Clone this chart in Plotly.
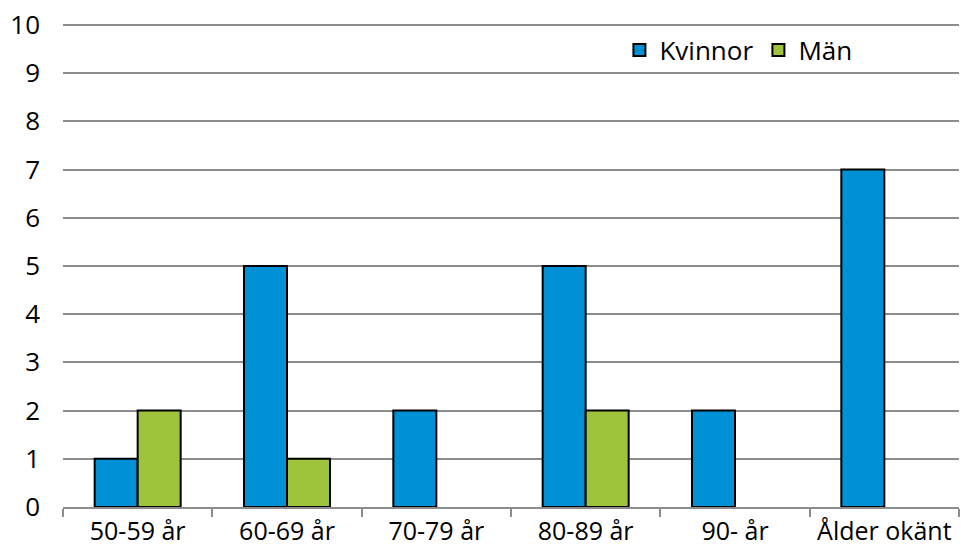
import plotly.graph_objects as go

categories = ["50-59 år", "60-69 år", "70-79 år", "80-89 år", "90- år", "Ålder okänt"]
kvinnor = [1, 5, 2, 5, 2, 7]
man = [2, 1, None, 2, None, None]
y_ticks = list(range(0, 11))

FONT = "Open Sans"
GRID = "#8c8c8c"

fig = go.Figure()
fig.add_trace(go.Bar(
    x=categories, y=kvinnor, name="Kvinnor",
    marker=dict(color="#0090D5", line=dict(color="black", width=2)),
))
fig.add_trace(go.Bar(
    x=categories, y=man, name="Män",
    marker=dict(color="#9DC43B", line=dict(color="black", width=2)),
))

fig.update_layout(
    width=961, height=551,
    margin=dict(l=63, r=2, t=23, b=44),
    paper_bgcolor="white", plot_bgcolor="white",
    barmode="group", bargap=0.424, bargroupgap=0,
    font=dict(family=FONT, size=26, color="black"),
    showlegend=True,
    legend=dict(
        orientation="h", x=0.621, y=0.944, xanchor="left", yanchor="middle",
        bgcolor="rgba(0,0,0,0)", font=dict(size=26), traceorder="normal",
        itemwidth=30,
    ),
)
fig.update_xaxes(
    type="category", tickson="boundaries", ticks="outside", ticklen=8,
    tickcolor=GRID, tickwidth=1.5, showline=True, linecolor=GRID, linewidth=1.5,
    showgrid=False, zeroline=False, ticklabelstandoff=1, tickangle=0,
    tickfont=dict(size=25), automargin=False,
)
fig.update_yaxes(
    range=[0, 10.04], tickvals=y_ticks, showgrid=True, gridcolor=GRID, gridwidth=1.5,
    zeroline=False, showline=False, ticks="", ticklabelstandoff=22,
    automargin=False,
)

fig.write_html("out.html")
